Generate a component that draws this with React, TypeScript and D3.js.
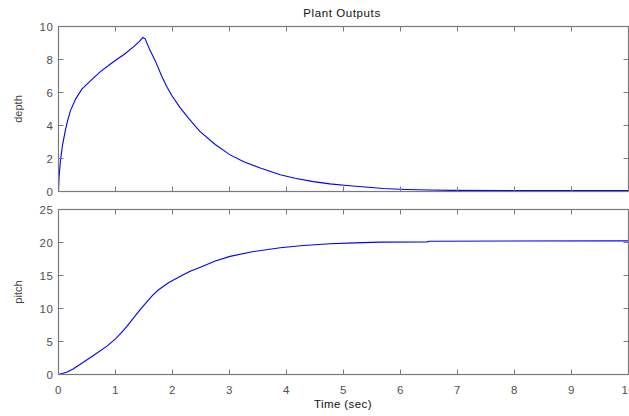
import React from "react";
import * as d3 from "d3";

// Plant response samples (time in seconds)
const depthTime = [0, 0.01, 0.035, 0.07, 0.12, 0.16, 0.21, 0.3, 0.41, 0.56, 0.73, 0.9, 1.02, 1.15, 1.31, 1.42, 1.48, 1.52, 1.6, 1.7, 1.81, 1.9, 1.99, 2.13, 2.28, 2.48, 2.75, 3.01, 3.25, 3.54, 3.89, 4.15, 4.47, 4.76, 5.06, 5.38, 5.7, 6.1, 6.5, 6.9, 8, 10];
const depthValues = [0, 0.9, 1.9, 2.8, 3.7, 4.3, 4.9, 5.6, 6.2, 6.7, 7.25, 7.7, 8.0, 8.3, 8.75, 9.1, 9.33, 9.25, 8.6, 7.9, 7.0, 6.35, 5.8, 5.1, 4.45, 3.64, 2.85, 2.22, 1.8, 1.42, 1.01, 0.8, 0.6, 0.46, 0.36, 0.27, 0.18, 0.12, 0.09, 0.07, 0.06, 0.06];

const pitchTime = [0, 0.14, 0.25, 0.41, 0.6, 0.85, 1.0, 1.1, 1.2, 1.31, 1.43, 1.55, 1.65, 1.75, 1.85, 1.93, 2.13, 2.3, 2.5, 2.75, 3.01, 3.4, 3.89, 4.3, 4.76, 5.2, 5.64, 6.47, 6.5, 10];
const pitchValues = [0, 0.35, 0.8, 1.7, 2.8, 4.3, 5.4, 6.3, 7.3, 8.5, 9.8, 11.0, 12.0, 12.8, 13.4, 13.9, 14.85, 15.6, 16.3, 17.2, 17.9, 18.6, 19.2, 19.55, 19.8, 19.95, 20.05, 20.1, 20.2, 20.25];

const timeTicks = [0, 1, 2, 3, 4, 5, 6, 7, 8, 9, 10];
const depthTicks = [0, 2, 4, 6, 8, 10];
const pitchTicks = [0, 5, 10, 15, 20, 25];

const W = 629;
const H = 416;
const FONT = "'Liberation Sans', Arial, Helvetica, sans-serif";
const AXIS = "#7a7a7a";
const TICK_TEXT = "#505050";
const TICK_LEN = 5;

const x = d3.scaleLinear().domain([0, 10]).range([58.5, 628.5]);

type PanelProps = {
  times: number[];
  values: number[];
  ticks: number[];
  yMax: number;
  top: number;
  bottom: number;
  label: string;
  showX: boolean;
};

function Panel({ times, values, ticks, yMax, top, bottom, label, showX }: PanelProps) {
  const y = d3.scaleLinear().domain([0, yMax]).range([bottom, top]);
  const [x0, x1] = x.range();
  const pts: [number, number][] = times.map((t, i) => [t, values[i]]);
  const line = d3
    .line<[number, number]>()
    .x((d) => x(d[0]))
    .y((d) => y(d[1]));
  return (
    <g>
      <path d={line(pts) ?? ""} fill="none" stroke="#0000ff" strokeWidth={1.1} />
      <rect x={x0} y={top} width={x1 - x0} height={bottom - top} fill="none" stroke={AXIS} strokeWidth={1.2} />
      {timeTicks.map((t) => (
        <g key={"xt" + t}>
          <line x1={x(t)} x2={x(t)} y1={bottom} y2={bottom - TICK_LEN} stroke={AXIS} />
          <line x1={x(t)} x2={x(t)} y1={top} y2={top + TICK_LEN} stroke={AXIS} />
          {showX && (
            <text x={x(t)} y={bottom + 19} textAnchor="middle" fontSize={11.5} letterSpacing={0.6} fill={TICK_TEXT} fontFamily={FONT}>
              {t}
            </text>
          )}
        </g>
      ))}
      {ticks.map((v) => (
        <g key={"yt" + v}>
          <line x1={x0} x2={x0 + TICK_LEN} y1={y(v)} y2={y(v)} stroke={AXIS} />
          <line x1={x1} x2={x1 - TICK_LEN} y1={y(v)} y2={y(v)} stroke={AXIS} />
          <text x={x0 - 5} y={y(v) + 4} textAnchor="end" fontSize={11.5} letterSpacing={0.6} fill={TICK_TEXT} fontFamily={FONT}>
            {v}
          </text>
        </g>
      ))}
      <text
        transform={`translate(22,${(top + bottom) / 2}) rotate(-90)`}
        textAnchor="middle"
        fontSize={11}
        fill="#444"
        fontFamily={FONT}
      >
        {label}
      </text>
    </g>
  );
}

export default function App() {
  return (
    <svg
      width={W}
      height={H}
      style={{ position: "absolute", left: 0, top: 0, background: "#fff" }}
    >
      <rect width={W} height={H} fill="#fff" />
      <text x={342} y={17} textAnchor="middle" fontSize={11.5} letterSpacing={0.6} fill="#111" fontFamily={FONT}>
        Plant Outputs
      </text>
      <Panel times={depthTime} values={depthValues} ticks={depthTicks} yMax={10} top={26.5} bottom={191.5} label="depth" showX={false} />
      <Panel times={pitchTime} values={pitchValues} ticks={pitchTicks} yMax={25} top={209.5} bottom={374.5} label="pitch" showX={true} />
      <text x={343} y={408} textAnchor="middle" fontSize={11.5} letterSpacing={0.4} fill="#111" fontFamily={FONT}>
        Time (sec)
      </text>
    </svg>
  );
}
